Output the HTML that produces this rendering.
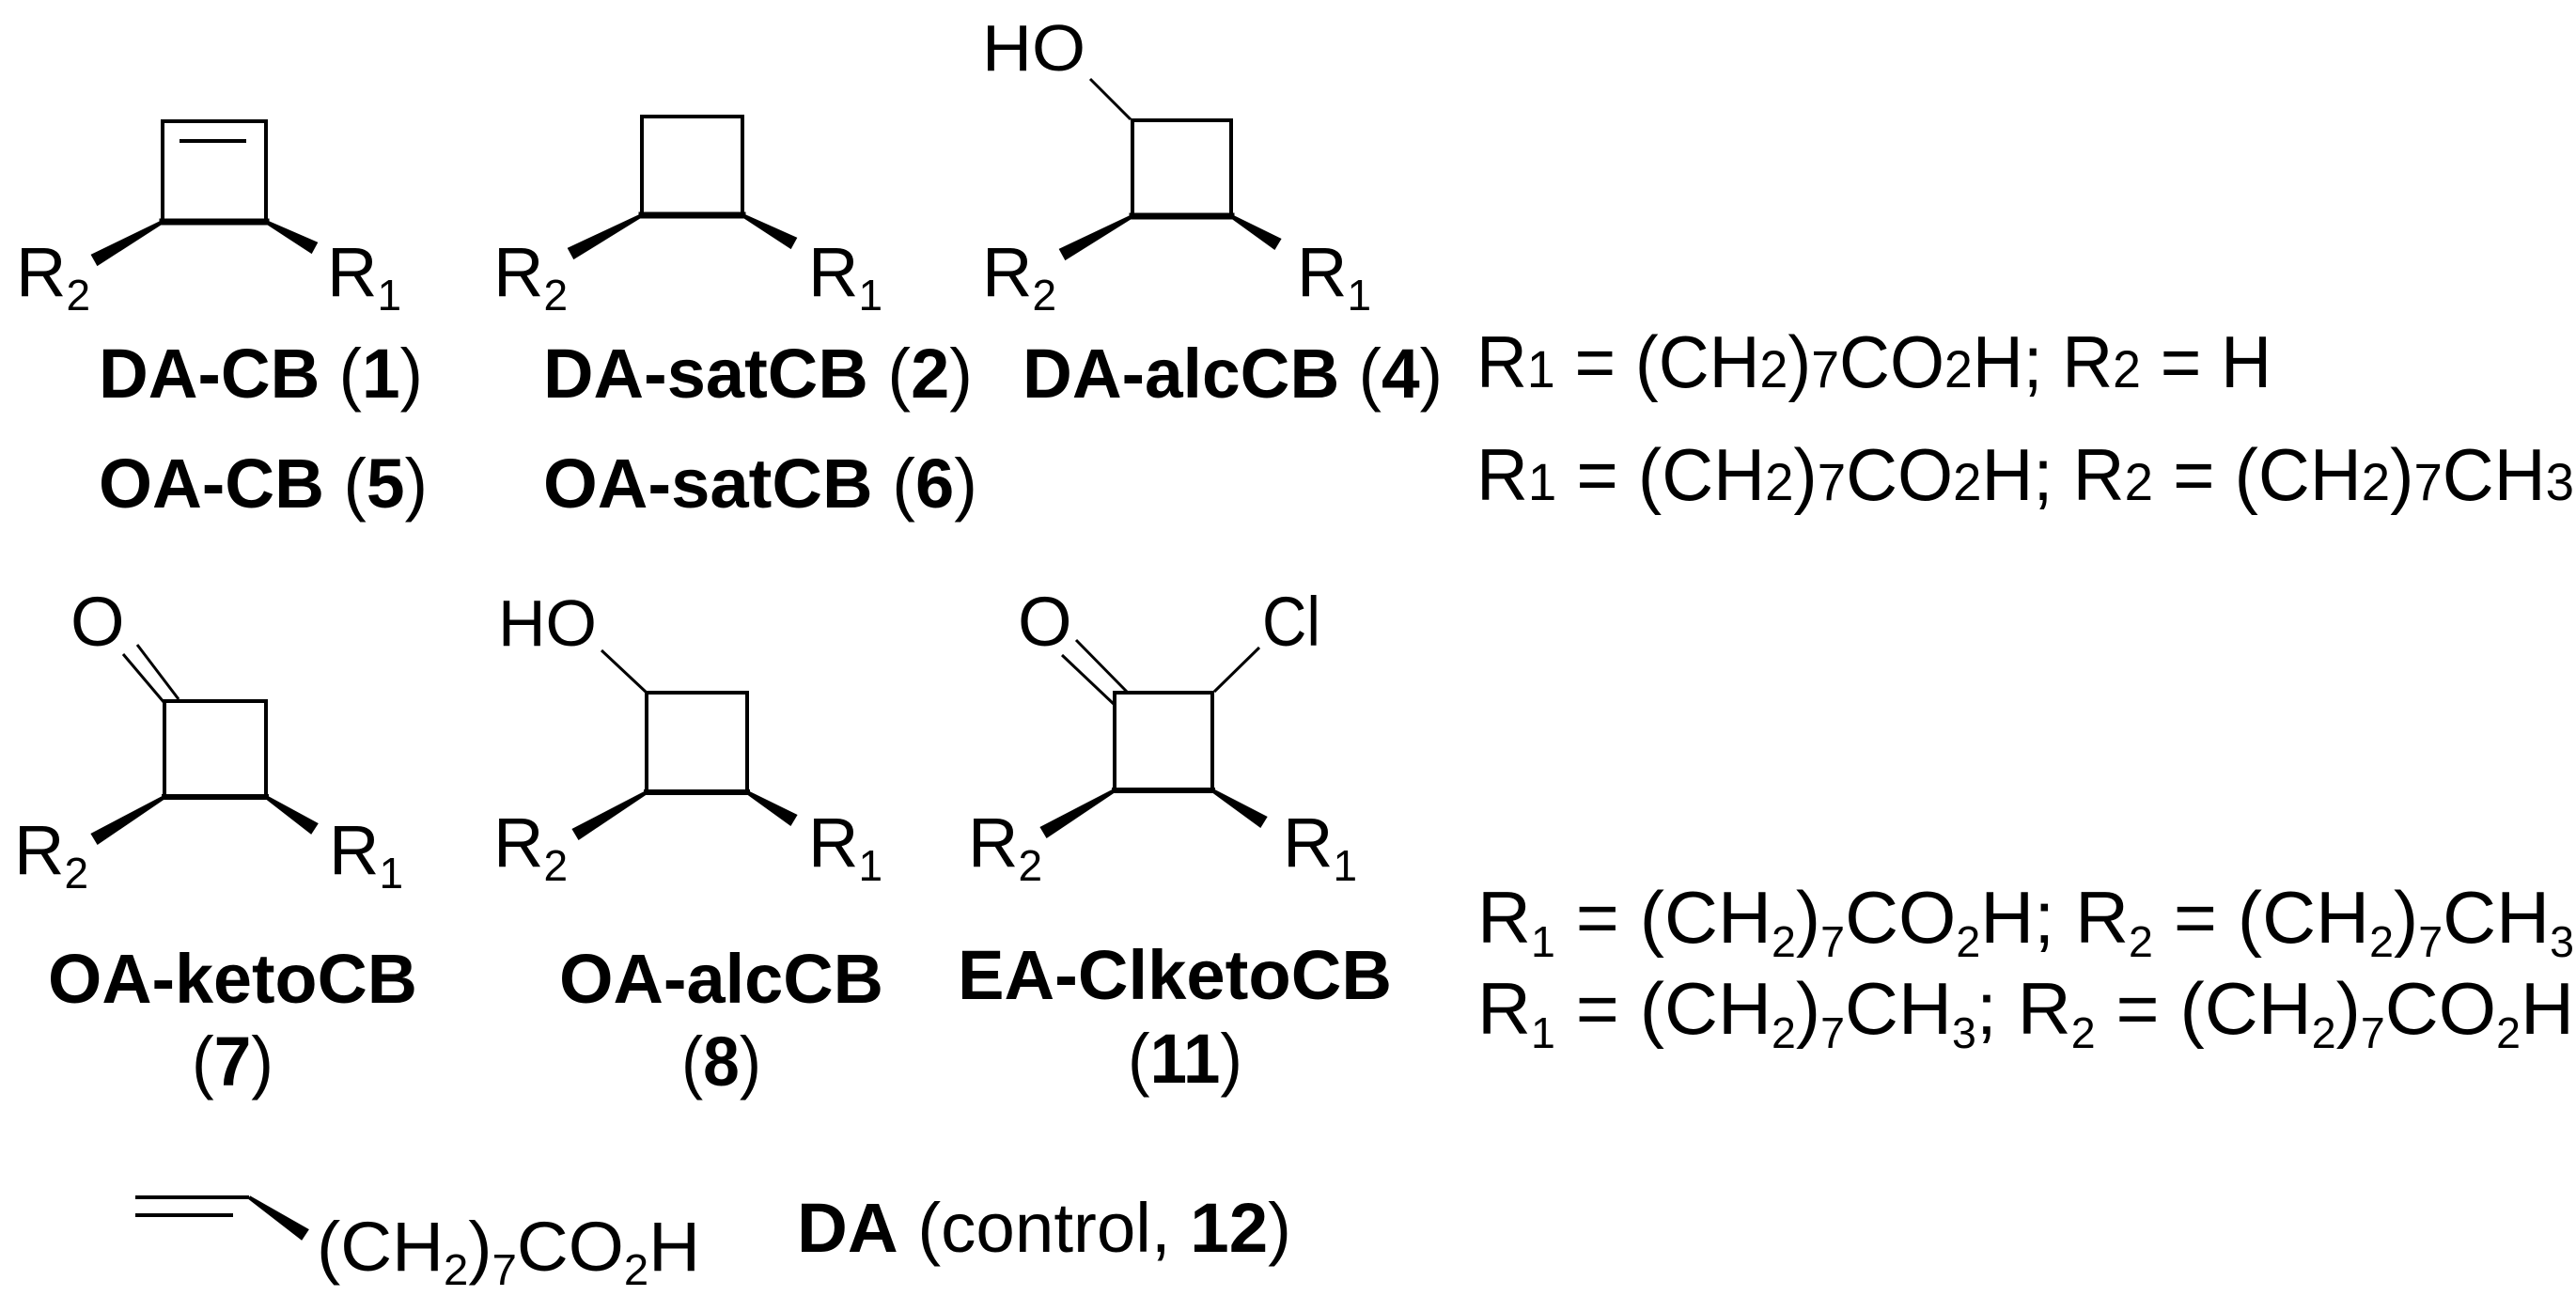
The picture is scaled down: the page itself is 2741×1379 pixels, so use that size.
<!DOCTYPE html>
<html><head><meta charset="utf-8"><style>
html,body{margin:0;padding:0;background:#fff;}
svg{display:block;}
text{font-family:"Liberation Sans",Arial,sans-serif;fill:#000;}
.b{font-weight:bold;}
</style></head><body>
<svg id="s" width="2741" height="1379" viewBox="0 0 2741 1379" xmlns="http://www.w3.org/2000/svg">
<g stroke="#000" stroke-width="4" fill="none" stroke-linecap="square">
<!-- S1 -->
<path d="M173,236 L173,129 L283,129 L283,236"/>
<line x1="173" y1="236" x2="283" y2="236" stroke-width="7"/>
<line x1="193" y1="150" x2="260" y2="150"/>
<!-- S2 -->
<path d="M683,229 L683,124 L790,124 L790,229"/>
<line x1="683" y1="229" x2="790" y2="229" stroke-width="7"/>
<!-- S3 -->
<path d="M1205,230 L1205,128 L1310,128 L1310,230"/>
<line x1="1205" y1="230" x2="1310" y2="230" stroke-width="7"/>
<line x1="1160" y1="84" x2="1203" y2="127" stroke-width="3" stroke-linecap="butt"/>
<!-- S7 -->
<path d="M175,848 L175,746 L283,746 L283,848"/>
<line x1="175" y1="848" x2="283" y2="848" stroke-width="6"/>
<line x1="131" y1="696" x2="175" y2="748" stroke-width="3" stroke-linecap="butt"/>
<line x1="146" y1="686" x2="190" y2="744" stroke-width="3" stroke-linecap="butt"/>
<!-- S8 -->
<path d="M688,843 L688,737 L795,737 L795,843"/>
<line x1="688" y1="843" x2="795" y2="843" stroke-width="6"/>
<line x1="640" y1="692" x2="688" y2="737" stroke-width="3" stroke-linecap="butt"/>
<!-- S11 -->
<path d="M1186,841 L1186,737 L1290,737 L1290,841"/>
<line x1="1186" y1="841" x2="1290" y2="841" stroke-width="6"/>
<line x1="1130" y1="697" x2="1186" y2="750" stroke-width="3" stroke-linecap="butt"/>
<line x1="1145" y1="681" x2="1200" y2="737" stroke-width="3" stroke-linecap="butt"/>
<line x1="1340" y1="689" x2="1292" y2="736" stroke-width="3" stroke-linecap="butt"/>
<!-- DA -->
<line x1="144" y1="1274" x2="265" y2="1274" stroke-linecap="butt"/>
<line x1="144" y1="1293" x2="248" y2="1293" stroke-linecap="butt"/>
</g>
<g id="w" fill="#000"></g>

<!-- R labels row1 -->
<g font-size="74">
<text x="17" y="315">R<tspan font-size="46" dy="15">2</tspan></text>
<text x="348" y="315">R<tspan font-size="46" dy="15">1</tspan></text>
<text x="525" y="315">R<tspan font-size="46" dy="15">2</tspan></text>
<text x="860" y="315">R<tspan font-size="46" dy="15">1</tspan></text>
<text x="1045" y="315">R<tspan font-size="46" dy="15">2</tspan></text>
<text x="1380" y="315">R<tspan font-size="46" dy="15">1</tspan></text>
<text x="1045" y="75" font-size="70" textLength="110" lengthAdjust="spacingAndGlyphs">HO</text>
<!-- row2 -->
<text x="75" y="687" font-size="74">O</text>
<text x="530" y="687" font-size="70" textLength="105" lengthAdjust="spacingAndGlyphs">HO</text>
<text x="1083" y="687" font-size="74">O</text>
<text x="1343" y="687" font-size="74" textLength="62" lengthAdjust="spacingAndGlyphs">Cl</text>
<text x="15" y="930">R<tspan font-size="46" dy="15">2</tspan></text>
<text x="350" y="930">R<tspan font-size="46" dy="15">1</tspan></text>
<text x="525" y="922">R<tspan font-size="46" dy="15">2</tspan></text>
<text x="860" y="922">R<tspan font-size="46" dy="15">1</tspan></text>
<text x="1030" y="922">R<tspan font-size="46" dy="15">2</tspan></text>
<text x="1365" y="922">R<tspan font-size="46" dy="15">1</tspan></text>
</g>

<!-- compound labels -->
<g font-size="74">
<text x="105" y="423" textLength="345" lengthAdjust="spacingAndGlyphs"><tspan class="b">DA-CB</tspan> (<tspan class="b">1</tspan>)</text>
<text x="578" y="423" textLength="457" lengthAdjust="spacingAndGlyphs"><tspan class="b">DA-satCB</tspan> (<tspan class="b">2</tspan>)</text>
<text x="1088" y="423" textLength="447" lengthAdjust="spacingAndGlyphs"><tspan class="b">DA-alcCB</tspan> (<tspan class="b">4</tspan>)</text>
<text x="105" y="540" textLength="350" lengthAdjust="spacingAndGlyphs"><tspan class="b">OA-CB</tspan> (<tspan class="b">5</tspan>)</text>
<text x="578" y="540" textLength="462" lengthAdjust="spacingAndGlyphs"><tspan class="b">OA-satCB</tspan> (<tspan class="b">6</tspan>)</text>

<text x="51" y="1067" class="b" textLength="393" lengthAdjust="spacingAndGlyphs">OA-ketoCB</text>
<text x="595" y="1067" class="b" textLength="345" lengthAdjust="spacingAndGlyphs">OA-alcCB</text>
<text x="1019" y="1063" class="b" textLength="462" lengthAdjust="spacingAndGlyphs">EA-ClketoCB</text>
<text x="204" y="1155" textLength="87" lengthAdjust="spacingAndGlyphs">(<tspan class="b">7</tspan>)</text>
<text x="725" y="1155" textLength="85" lengthAdjust="spacingAndGlyphs">(<tspan class="b">8</tspan>)</text>
<text x="1200" y="1152" textLength="122" lengthAdjust="spacingAndGlyphs">(<tspan class="b">11</tspan>)</text>

<text x="337" y="1352" textLength="408" lengthAdjust="spacingAndGlyphs">(CH<tspan font-size="46" dy="15">2</tspan><tspan dy="-15">)</tspan><tspan font-size="46" dy="15">7</tspan><tspan dy="-15">CO</tspan><tspan font-size="46" dy="15">2</tspan><tspan dy="-15">H</tspan></text>
<text x="848" y="1332" textLength="526" lengthAdjust="spacingAndGlyphs"><tspan class="b">DA</tspan> (control, <tspan class="b">12</tspan>)</text>
</g>

<!-- right side -->
<g font-size="78">
<text x="1571" y="412" textLength="846" lengthAdjust="spacingAndGlyphs">R<tspan font-size="56">1</tspan> = (CH<tspan font-size="56">2</tspan>)<tspan font-size="56">7</tspan>CO<tspan font-size="56">2</tspan>H; R<tspan font-size="56">2</tspan> = H</text>
<text x="1571" y="532" textLength="1168" lengthAdjust="spacingAndGlyphs">R<tspan font-size="56">1</tspan> = (CH<tspan font-size="56">2</tspan>)<tspan font-size="56">7</tspan>CO<tspan font-size="56">2</tspan>H; R<tspan font-size="56">2</tspan> = (CH<tspan font-size="56">2</tspan>)<tspan font-size="56">7</tspan>CH<tspan font-size="56">3</tspan></text>
<text x="1572" y="1003" textLength="1167" lengthAdjust="spacingAndGlyphs">R<tspan font-size="46" dy="15">1</tspan><tspan dy="-15"> = (CH</tspan><tspan font-size="46" dy="15">2</tspan><tspan dy="-15">)</tspan><tspan font-size="46" dy="15">7</tspan><tspan dy="-15">CO</tspan><tspan font-size="46" dy="15">2</tspan><tspan dy="-15">H; R</tspan><tspan font-size="46" dy="15">2</tspan><tspan dy="-15"> = (CH</tspan><tspan font-size="46" dy="15">2</tspan><tspan dy="-15">)</tspan><tspan font-size="46" dy="15">7</tspan><tspan dy="-15">CH</tspan><tspan font-size="46" dy="15">3</tspan></text>
<text x="1572" y="1100" textLength="1167" lengthAdjust="spacingAndGlyphs">R<tspan font-size="46" dy="15">1</tspan><tspan dy="-15"> = (CH</tspan><tspan font-size="46" dy="15">2</tspan><tspan dy="-15">)</tspan><tspan font-size="46" dy="15">7</tspan><tspan dy="-15">CH</tspan><tspan font-size="46" dy="15">3</tspan><tspan dy="-15">; R</tspan><tspan font-size="46" dy="15">2</tspan><tspan dy="-15"> = (CH</tspan><tspan font-size="46" dy="15">2</tspan><tspan dy="-15">)</tspan><tspan font-size="46" dy="15">7</tspan><tspan dy="-15">CO</tspan><tspan font-size="46" dy="15">2</tspan><tspan dy="-15">H</tspan></text>
</g>
</svg>
<script>
var W=[[173,236,100,277],[283,236,335,264],[683,229,607,270],[790,229,845,259],[1205,230,1130,271],[1310,230,1360,260],
[175,848,100,893],[283,848,335,882],[688,843,612,888],[795,843,845,873],[1186,841,1110,886],[1290,841,1345,875],[265,1274,325,1314]];
var g=document.getElementById('w'),s='';
W.forEach(function(a){var dx=a[2]-a[0],dy=a[3]-a[1],L=Math.sqrt(dx*dx+dy*dy),nx=-dy/L,ny=dx/L,w0=2,w1=7;
s+='<polygon points="'+(a[0]+nx*w0)+','+(a[1]+ny*w0)+' '+(a[2]+nx*w1)+','+(a[3]+ny*w1)+' '+(a[2]-nx*w1)+','+(a[3]-ny*w1)+' '+(a[0]-nx*w0)+','+(a[1]-ny*w0)+'"/>';});
g.innerHTML=s;
</script>
</body></html>
